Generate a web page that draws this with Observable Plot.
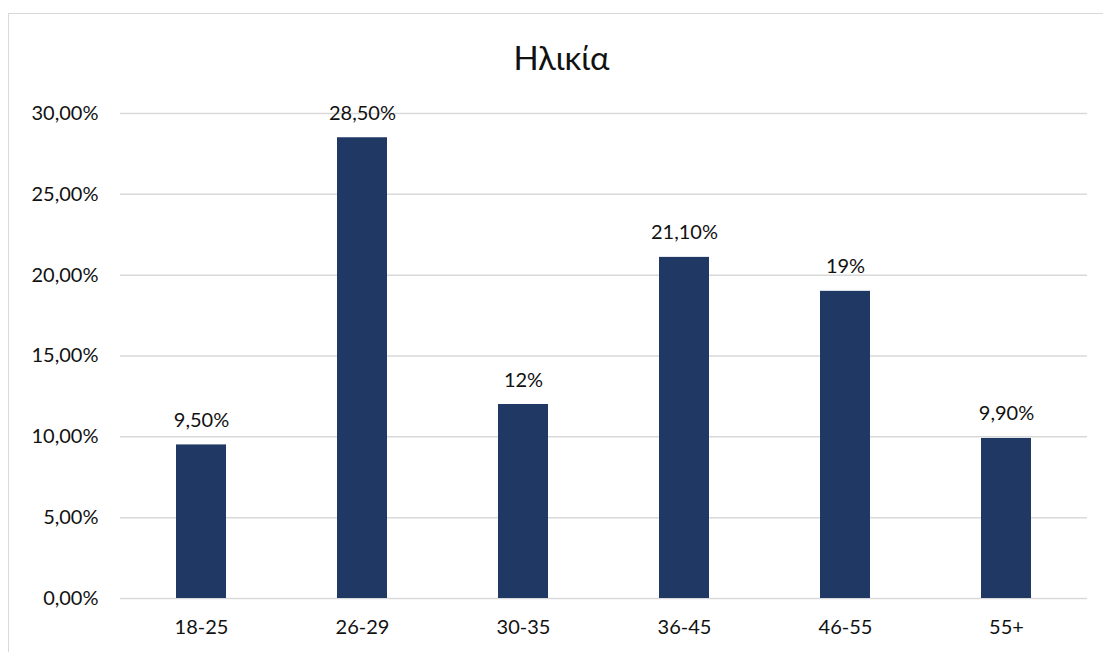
<!DOCTYPE html>
<html>
<head>
<meta charset="utf-8">
<script src="https://cdn.jsdelivr.net/npm/d3@7"></script>
<script src="https://cdn.jsdelivr.net/npm/@observablehq/plot@0.6"></script>
<style>
  html, body { margin: 0; padding: 0; background: #fff; overflow: hidden; }
  #wrap { position: relative; width: 1103px; height: 652px; font-family: Lato, "Noto Sans", sans-serif; }
  #frame { position: absolute; left: 8px; top: 13px; width: 1120px; height: 680px; border: 1.5px solid #d9d9d9; box-sizing: border-box; }
  #title { position: absolute; left: 10px; width: 1103px; top: 37px; text-align: center; font-size: 33px; color: #111; }
  #chart { position: absolute; left: 0; top: 0; }
</style>
</head>
<body>
<div id="wrap">
  <div id="frame"></div>
  <div id="title">Ηλικία</div>
  <div id="chart"></div>
</div>
<script>
// Age groups and their share of respondents (%)
const ageGroups = ["18-25", "26-29", "30-35", "36-45", "46-55", "55+"];
const shares = [9.5, 28.5, 12, 21.1, 19, 9.9];
const shareLabels = ["9,50%", "28,50%", "12%", "21,10%", "19%", "9,90%"];
const yTicks = [0, 5, 10, 15, 20, 25, 30];

const rows = ageGroups.map((g, i) => ({ group: g, share: shares[i], label: shareLabels[i] }));
const fmtTick = (v) => v.toFixed(2).replace(".", ",") + "%";

const chart = Plot.plot({
  width: 1103,
  height: 652,
  marginLeft: 120,
  marginRight: 16,
  marginTop: 113,
  marginBottom: 54,
  style: { fontFamily: "Lato, 'Noto Sans', sans-serif", fontSize: "20px", color: "#111", background: "transparent" },
  x: { domain: ageGroups, paddingInner: 0.69, paddingOuter: 0.345, label: null },
  y: { domain: [0, 30], label: null },
  marks: [
    Plot.ruleY(yTicks, { stroke: "#d9d9d9", strokeWidth: 1.5 }),
    Plot.barY(rows, { x: "group", y: "share", fill: "#203864" }),
    Plot.text(rows, { x: "group", y: "share", text: "label", dy: -18, lineAnchor: "bottom", fill: "#111", fontSize: 20 }),
    Plot.axisY({ ticks: yTicks, tickFormat: fmtTick, tickSize: 0, tickPadding: 22, fontSize: 20, label: null }),
    Plot.axisX({ tickSize: 0, tickPadding: 21, fontSize: 20, label: null })
  ]
});
document.getElementById("chart").appendChild(chart);
</script>
</body>
</html>
